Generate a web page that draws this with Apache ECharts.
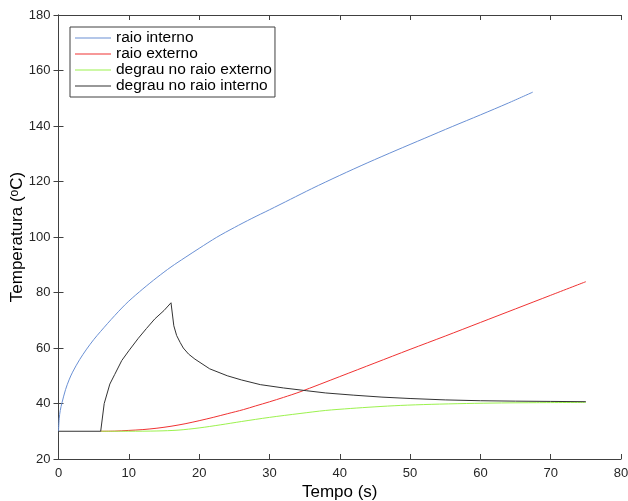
<!DOCTYPE html>
<html>
<head>
<meta charset="utf-8">
<script src="https://cdn.jsdelivr.net/npm/echarts@6/dist/echarts.min.js"></script>
<style>
html,body{margin:0;padding:0;background:#fff;}
#chart{width:628px;height:501px;}
</style>
</head>
<body>
<div id="chart"></div>
<script>
// Tick labels / axis ranges
var xTicks = [0, 10, 20, 30, 40, 50, 60, 70, 80];
var yTicks = [20, 40, 60, 80, 100, 120, 140, 160, 180];

// raio interno
var tInterno = [0, 0.1, 0.25, 0.5, 1, 1.5, 2, 3, 4, 5, 6, 7, 8, 9, 10, 12, 14, 16, 18, 20, 22.5, 25, 27.5, 30, 33, 36, 40, 44, 48, 52, 56, 60, 64, 67.45];
var raioInterno = [30, 34.5, 37.5, 40.3, 45, 48.5, 51.3, 55.8, 59.6, 63, 66, 68.9, 71.7, 74.4, 76.9, 81.3, 85.4, 89.2, 92.6, 95.9, 99.9, 103.4, 106.7, 109.8, 113.6, 117.4, 122.2, 126.8, 131.2, 135.5, 139.8, 144.0, 148.3, 152.2];

// raio externo
var tExterno = [6, 8, 10, 12, 14, 16, 18, 20, 22, 24, 26.3, 28, 30, 32, 34.35, 40, 45, 50, 55, 60, 65, 70, 75];
var raioExterno = [30, 30.05, 30.3, 30.6, 31.1, 31.8, 32.7, 33.8, 35, 36.3, 37.8, 39.1, 40.6, 42.2, 44.2, 49.7, 54.6, 59.5, 64.3, 69.2, 74.1, 79, 83.9];

// degrau no raio externo
var tDegrauExt = [6, 10, 14, 17, 20, 23, 26, 30, 34.35, 38, 41.5, 45, 48.6, 53, 58, 63, 68, 75];
var degrauExterno = [30, 30, 30.1, 30.4, 31.2, 32.3, 33.5, 35, 36.4, 37.5, 38.2, 38.8, 39.3, 39.7, 40.0, 40.2, 40.3, 40.4];

// degrau no raio interno
var tDegrauInt = [0, 6, 6.5, 7.3, 8, 9, 10, 11.35, 12.5, 13.7, 15, 16, 16.4, 16.8, 17.3, 17.75, 18.5, 19.4, 21.5, 24, 26, 28.7, 32, 35.3, 38, 42, 46, 50, 55, 60, 65, 70, 75];
var degrauInterno = [30, 30, 40, 47, 50.5, 55.5, 59, 63.5, 67, 70.5, 73.5, 76.3, 68, 64.5, 62, 60, 57.8, 56, 52.5, 50, 48.5, 46.8, 45.6, 44.6, 43.8, 43, 42.3, 41.8, 41.3, 41, 40.85, 40.75, 40.65];

var names = ['raio interno', 'raio externo', 'degrau no raio externo', 'degrau no raio interno'];
var colors = ['#6a90d4', '#f03232', '#9cf24e', '#333333'];

function pairs(xs, ys) { return xs.map(function (x, i) { return [x, ys[i]]; }); }

var axisColor = '#404040';
var font = "'Liberation Sans', Arial, Helvetica, sans-serif";

var chart = echarts.init(document.getElementById('chart'), null, {renderer: 'canvas'});
var baseX = {
  type: 'value', min: xTicks[0], max: xTicks[xTicks.length - 1], interval: 10,
  axisLine: {show: true, lineStyle: {color: axisColor, width: 1}},
  axisTick: {show: true, inside: true, length: 5, lineStyle: {color: axisColor}},
  splitLine: {show: false}
};
var baseY = {
  type: 'value', min: yTicks[0], max: yTicks[yTicks.length - 1], interval: 20,
  axisLine: {show: true, lineStyle: {color: axisColor, width: 1}},
  axisTick: {show: true, inside: true, length: 5, lineStyle: {color: axisColor}},
  splitLine: {show: false}
};

var option = {
  animation: false,
  backgroundColor: '#ffffff',
  textStyle: {fontFamily: font},
  grid: {left: 58.5, right: 7, top: 15, bottom: 42, containLabel: false, outerBoundsMode: 'none'},
  legend: {
    data: names,
    orient: 'vertical',
    left: 70, top: 27,
    icon: 'rect',
    itemWidth: 36, itemHeight: 1, itemGap: 0,
    padding: [3, 3, 3, 5],
    backgroundColor: '#fff',
    borderColor: axisColor, borderWidth: 1, borderRadius: 0,
    textStyle: {fontSize: 15.5, color: '#000', fontFamily: font, lineHeight: 15}
  },
  xAxis: [
    Object.assign({}, baseX, {
      position: 'bottom',
      axisLabel: {show: true, fontSize: 13, color: '#262626', margin: 8, fontFamily: font},
      name: 'Tempo (s)', nameLocation: 'middle', nameGap: 25, nameMoveOverlap: false,
      nameTextStyle: {fontSize: 17, color: '#000', fontFamily: font}
    }),
    Object.assign({}, baseX, {position: 'top', axisLabel: {show: false}})
  ],
  yAxis: [
    Object.assign({}, baseY, {
      position: 'left',
      axisLabel: {show: true, fontSize: 13, color: '#262626', margin: 8, fontFamily: font},
      name: 'Temperatura ({sup|o}C)', nameLocation: 'middle', nameGap: 33, nameMoveOverlap: false,
      nameTextStyle: {fontSize: 17, color: '#000', fontFamily: font,
        rich: {sup: {fontSize: 12, verticalAlign: 'top', color: '#000', fontFamily: font, lineHeight: 17}}}
    }),
    Object.assign({}, baseY, {position: 'right', axisLabel: {show: false}})
  ],
  series: [
    {name: names[0], type: 'line', data: pairs(tInterno, raioInterno), smooth: 0.3},
    {name: names[1], type: 'line', data: pairs(tExterno, raioExterno), smooth: 0.3},
    {name: names[2], type: 'line', data: pairs(tDegrauExt, degrauExterno), smooth: 0.3},
    {name: names[3], type: 'line', data: pairs(tDegrauInt, degrauInterno), smooth: false}
  ].map(function (s, i) {
    s.symbol = 'none';
    s.showSymbol = false;
    s.color = colors[i];
    s.itemStyle = {color: colors[i]};
    s.lineStyle = {color: colors[i], width: 1};
    s.xAxisIndex = 0; s.yAxisIndex = 0;
    return s;
  })
};
chart.setOption(option);
</script>
</body>
</html>
